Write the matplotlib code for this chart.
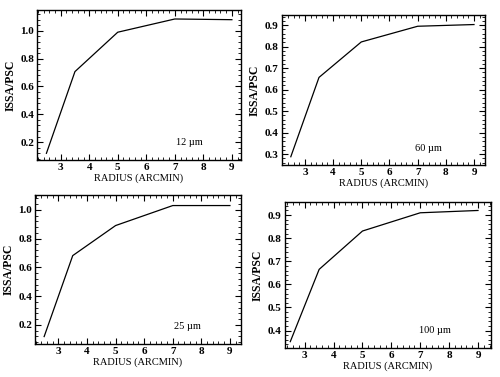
import matplotlib
matplotlib.use("Agg")
import matplotlib.pyplot as plt
from matplotlib.ticker import MultipleLocator

plt.rcParams['font.family'] = ['Liberation Serif', 'DejaVu Serif']

# radius sampled for each band (arcmin)
radius = [2.5, 3.5, 5.0, 7.0, 9.0]

ratio_12 = [0.12, 0.707, 0.99, 1.085, 1.08]
ratio_60 = [0.288, 0.657, 0.822, 0.895, 0.903]
ratio_25 = [0.119, 0.682, 0.891, 1.03, 1.03]
ratio_100 = [0.352, 0.665, 0.831, 0.91, 0.92]

labels = ["12 \u00b5m", "60 \u00b5m", "25 \u00b5m", "100 \u00b5m"]
series = [ratio_12, ratio_60, ratio_25, ratio_100]

fig = plt.figure(figsize=(5.0, 3.77), dpi=100)

# panel settings: axes box, x limits, y limits, y major/minor step, label position
panels = [
    ([0.074, 0.576, 0.408, 0.398], (2.17, 9.32), (0.073, 1.151), 0.2, 0.04, (7.5, 0.2)),
    ([0.563, 0.562, 0.407, 0.398], (2.17, 9.39), (0.249, 0.947), 0.1, 0.02, (7.4, 0.327)),
    ([0.070, 0.087, 0.411, 0.396], (2.18, 9.37), (0.066, 1.104), 0.2, 0.04, (7.5, 0.19)),
    ([0.569, 0.076, 0.413, 0.389], (2.30, 9.45), (0.323, 0.958), 0.1, 0.02, (7.5, 0.40)),
]

for (box, xl, yl, ymaj, ymin, tpos), vals, lab in zip(panels, series, labels):
    ax = fig.add_axes(box)
    ax.plot(radius, vals, color="black", lw=0.9)
    ax.set_xlim(*xl)
    ax.set_ylim(*yl)
    ax.xaxis.set_major_locator(MultipleLocator(1))
    ax.xaxis.set_minor_locator(MultipleLocator(0.2))
    ax.yaxis.set_major_locator(MultipleLocator(ymaj))
    ax.yaxis.set_minor_locator(MultipleLocator(ymin))
    ax.yaxis.set_major_formatter(matplotlib.ticker.FormatStrFormatter('%.1f'))
    ax.tick_params(which="both", direction="in", top=True, right=True,
                   labelsize=8, pad=2)
    ax.tick_params(which="major", length=4, width=0.8)
    ax.tick_params(which="minor", length=2, width=0.6)
    for t in ax.get_xticklabels() + ax.get_yticklabels():
        t.set_fontweight("bold")
    for s in ax.spines.values():
        s.set_linewidth(1.0)
    ax.set_xlabel("RADIUS (ARCMIN)", fontsize=7.5, labelpad=1)
    ax.set_ylabel("ISSA/PSC", fontsize=8.5, fontweight="bold", labelpad=3)
    ax.text(tpos[0], tpos[1], lab, fontsize=7.5, ha="center", va="center")

fig.savefig("out.png", dpi=100)
